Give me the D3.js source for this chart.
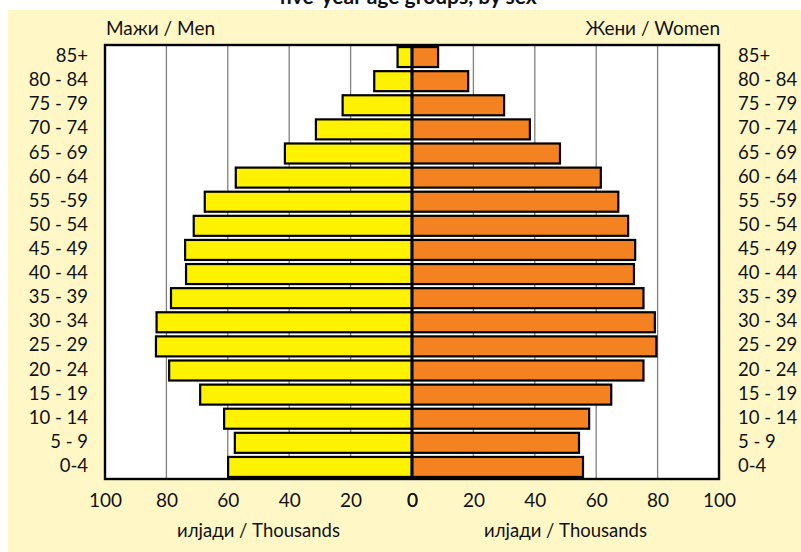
<!DOCTYPE html>
<html>
<head>
<meta charset="utf-8">
<script src="https://cdn.jsdelivr.net/npm/d3@7"></script>
<style>
  html, body { margin: 0; padding: 0; background: #ffffff; }
  svg { display: block; }
  text { font-family: Lato, "Open Sans", sans-serif; fill: #111; white-space: pre; }
</style>
</head>
<body>
<svg id="chart" width="801" height="552"></svg>
<script>
const ageGroups = ["85+","80 - 84","75 - 79","70 - 74","65 - 69","60 - 64","55  -59","50 - 54","45 - 49","40 - 44","35 - 39","30 - 34","25 - 29","20 - 24","15 - 19","10 - 14","5 - 9","0-4"];
const men   = [4.7, 12.3, 22.6, 31.3, 41.4, 57.4, 67.5, 71.1, 73.9, 73.6, 78.5, 83.2, 83.4, 79.1, 69.0, 61.2, 57.7, 59.9];
const women = [8.5, 18.3, 30.0, 38.4, 48.2, 61.5, 67.2, 70.4, 72.7, 72.3, 75.4, 79.1, 79.6, 75.4, 64.9, 57.7, 54.4, 55.7];
const tickValues = [100, 80, 60, 40, 20, 0];
const gridValues = [20, 40, 60, 80];
const titleText = "five-year age groups, by sex";
const menLabel = "Мажи / Men";
const womenLabel = "Жени / Women";
const unitLabel = "илјади / Thousands";

const svg = d3.select("#chart");
const plot = { left: 105, right: 719, top: 45, bottom: 479, center: 412 };

const xL = d3.scaleLinear().domain([0, 100]).range([plot.center, plot.left]);
const xR = d3.scaleLinear().domain([0, 100]).range([plot.center, plot.right]);
const y = d3.scaleBand().domain(ageGroups).range([plot.top, plot.bottom]).paddingInner(0.17).paddingOuter(0.085);

// cream background
svg.append("rect").attr("x", 8).attr("y", 10).attr("width", 801 - 8).attr("height", 552 - 10).attr("fill", "#FFF8C6");

// title (clipped at top, as in the reference)
svg.append("text").attr("x", 408).attr("y", 4).attr("text-anchor", "middle")
  .style("font-weight", "bold").style("font-size", "21px").text(titleText);

// plot area
svg.append("rect").attr("x", plot.left).attr("y", plot.top)
  .attr("width", plot.right - plot.left).attr("height", plot.bottom - plot.top).attr("fill", "#ffffff");

// gridlines
const grid = svg.append("g");
gridValues.forEach(v => {
  [xL(v), xR(v)].forEach(gx => {
    grid.append("line").attr("x1", gx).attr("x2", gx).attr("y1", plot.top).attr("y2", plot.bottom)
      .attr("stroke", "#808080").attr("stroke-width", 1.3);
  });
});

// bars
svg.append("g").selectAll("rect").data(ageGroups).join("rect")
  .attr("x", (d, i) => xL(men[i]))
  .attr("y", d => y(d))
  .attr("width", (d, i) => plot.center - xL(men[i]))
  .attr("height", y.bandwidth())
  .attr("fill", "#FFF200").attr("stroke", "#000").attr("stroke-width", 2.2);

svg.append("g").selectAll("rect").data(ageGroups).join("rect")
  .attr("x", plot.center)
  .attr("y", d => y(d))
  .attr("width", (d, i) => xR(women[i]) - plot.center)
  .attr("height", y.bandwidth())
  .attr("fill", "#F58220").attr("stroke", "#000").attr("stroke-width", 2.2);

// center line
svg.append("line").attr("x1", plot.center).attr("x2", plot.center).attr("y1", plot.top).attr("y2", plot.bottom)
  .attr("stroke", "#000").attr("stroke-width", 3);

// frame
svg.append("rect").attr("x", plot.left).attr("y", plot.top)
  .attr("width", plot.right - plot.left).attr("height", plot.bottom - plot.top)
  .attr("fill", "none").attr("stroke", "#000").attr("stroke-width", 2.4);

// age labels
svg.append("g").selectAll("text").data(ageGroups).join("text")
  .attr("x", 88).attr("y", d => y(d) + y.bandwidth() / 2 + 5)
  .attr("text-anchor", "end").style("font-size", "18.5px").text(d => d);
svg.append("g").selectAll("text").data(ageGroups).join("text")
  .attr("x", 738).attr("y", d => y(d) + y.bandwidth() / 2 + 5)
  .attr("text-anchor", "start").style("font-size", "18.5px").text(d => d);

// headers
svg.append("text").attr("x", 106).attr("y", 35).style("font-size", "19px").text(menLabel);
svg.append("text").attr("x", 720).attr("y", 35).attr("text-anchor", "end").style("font-size", "19px").text(womenLabel);

// x axes
const axL = d3.axisBottom(xL).tickValues(tickValues).tickSize(0).tickPadding(0).tickFormat(d3.format("d"));
const axR = d3.axisBottom(xR).tickValues(tickValues).tickSize(0).tickPadding(0).tickFormat(d3.format("d"));
[axL, axR].forEach(ax => {
  const g = svg.append("g").attr("transform", `translate(0, 492)`).call(ax);
  g.select(".domain").remove();
  g.selectAll("text").attr("dy", null).attr("y", 14.5).style("font-size", "19px").style("font-family", "Lato, 'Open Sans', sans-serif").attr("fill", "#111");
});

// unit labels
svg.append("text").attr("x", (plot.left + plot.center) / 2).attr("y", 537).attr("text-anchor", "middle").style("font-size", "18.5px").text(unitLabel);
svg.append("text").attr("x", (plot.center + plot.right) / 2).attr("y", 537).attr("text-anchor", "middle").style("font-size", "18.5px").text(unitLabel);
</script>
</body>
</html>
